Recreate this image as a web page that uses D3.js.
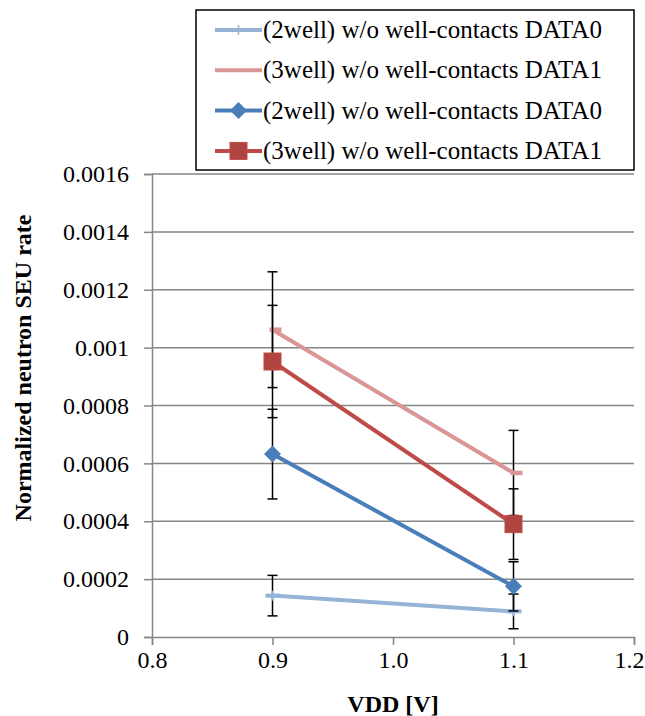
<!DOCTYPE html>
<html>
<head>
<meta charset="utf-8">
<script src="https://cdn.jsdelivr.net/npm/d3@7"></script>
<style>
  body { margin: 0; background: #fff; }
  svg text { font-family: "Liberation Serif", "Times New Roman", Tinos, "DejaVu Serif", serif; fill: #000; }
</style>
</head>
<body>
<div id="chart"></div>
<script>
// data
const vdd = [0.9, 1.1];
const seriesNames = [
    '(2well) w/o well-contacts DATA0',
    '(3well) w/o well-contacts DATA1',
    '(2well) w/o well-contacts DATA0',
    '(3well) w/o well-contacts DATA1'
];
const rate2wellLine = [0.000143, 0.0000885];
const rate3wellLine = [0.001062, 0.000567];
const rate2wellMark = [0.000632, 0.000175];
const rate3wellMark = [0.000952, 0.00039];
const err2wellLine = [0.00007, 0.00006];
const err3wellLine = [0.0002, 0.000147];
const err2wellMark = [0.000155, 0.000085];
const err3wellMark = [0.000194, 0.000122];
const yTicks = [0, 0.0002, 0.0004, 0.0006, 0.0008, 0.001, 0.0012, 0.0014, 0.0016];
const xTicks = [0.8, 0.9, 1.0, 1.1, 1.2];

const series = [
    { name: seriesNames[0], vals: rate2wellLine, err: err2wellLine, color: '#95B3D7', marker: 'plus' },
    { name: seriesNames[1], vals: rate3wellLine, err: err3wellLine, color: '#D99694', marker: 'dash' },
    { name: seriesNames[2], vals: rate2wellMark, err: err2wellMark, color: '#4A7EBB', marker: 'diamond' },
    { name: seriesNames[3], vals: rate3wellMark, err: err3wellMark, color: '#BE4B48', marker: 'square' }
];

const serif = '"Liberation Serif", "Times New Roman", Tinos, "DejaVu Serif", serif';

let margin = { top: 174, right: 11, bottom: 79, left: 152 },
    W = 645, H = 716,
    width = W - margin.left - margin.right,
    height = H - margin.top - margin.bottom;

let svg = d3.select('#chart').append('svg').attr('width', W).attr('height', H)
    .style('font-family', serif);
let g = svg.append('g').attr('transform', 'translate(' + margin.left + ',' + margin.top + ')');

let x = d3.scaleLinear().domain([0.8, 1.2]).range([0, width]);
let y = d3.scaleLinear().domain([0, 0.0016]).range([height, 0]);

const grey = '#868686';

// horizontal gridlines
g.append('g').selectAll('line').data(yTicks.slice(1)).enter().append('line')
    .attr('x1', 0).attr('x2', width)
    .attr('y1', d => y(d)).attr('y2', d => y(d))
    .attr('stroke', grey).attr('stroke-width', 1.5);

let yAxis = d3.axisLeft(y).tickValues(yTicks).tickSize(8).tickPadding(15)
    .tickFormat(d => d === 0 ? '0' : String(+d.toFixed(4)));
let xAxis = d3.axisBottom(x).tickValues(xTicks).tickSize(8).tickPadding(6)
    .tickFormat(d3.format('.1f'));

let gy = g.append('g').call(yAxis);
let gx = g.append('g').attr('transform', 'translate(0,' + height + ')').call(xAxis);
[gx, gy].forEach(a => {
    a.attr('font-family', serif).attr('font-size', 24);
    a.select('.domain').attr('stroke', grey).attr('stroke-width', 1.5);
    a.selectAll('.tick line').attr('stroke', grey).attr('stroke-width', 1.5);
    a.selectAll('.tick text').attr('fill', '#000');
});
// keep the last x label inside the picture
gx.selectAll('.tick text').filter(d => d === 1.2).attr('text-anchor', 'end').attr('x', W - margin.left - width - 1);

// axis titles
svg.append('text').attr('x', margin.left + width / 2).attr('y', 712)
    .attr('text-anchor', 'middle').style('font-size', '24px').style('font-weight', 'bold')
    .text('VDD [V]');
svg.append('text').attr('transform', 'translate(31,368) rotate(-90)')
    .attr('text-anchor', 'middle').style('font-size', '24px').style('font-weight', 'bold')
    .text('Normalized neutron SEU rate');

function drawMarker(sel, type, color) {
    if (type === 'diamond') {
        sel.append('path').attr('d', 'M0,-8.5L8.5,0L0,8.5L-8.5,0Z').attr('fill', color);
    } else if (type === 'square') {
        sel.append('rect').attr('x', -8.5).attr('y', -8.5).attr('width', 17).attr('height', 17)
            .attr('fill', '#B0443F').attr('stroke', '#BE4B48').attr('stroke-width', 1);
    } else if (type === 'plus') {
        sel.append('line').attr('x1', -7).attr('x2', 8).attr('stroke', color).attr('stroke-width', 4);
        sel.append('line').attr('y1', -5).attr('y2', 5).attr('stroke', color).attr('stroke-width', 1.5);
    } else if (type === 'dash') {
        sel.append('line').attr('x1', -3).attr('x2', 9).attr('stroke', color).attr('stroke-width', 4.5);
    }
}

let line = d3.line().x((d, i) => x(vdd[i])).y(d => y(d));

series.forEach(s => {
    let sg = g.append('g');
    // error bars
    let eb = sg.append('g').selectAll('g').data(s.vals).enter().append('g')
        .attr('transform', (d, i) => 'translate(' + x(vdd[i]) + ',0)');
    eb.append('line').attr('y1', (d, i) => y(d + s.err[i])).attr('y2', (d, i) => y(d - s.err[i]))
        .attr('stroke', '#000').attr('stroke-width', 1.5);
    eb.append('line').attr('x1', -5).attr('x2', 5)
        .attr('y1', (d, i) => y(d + s.err[i])).attr('y2', (d, i) => y(d + s.err[i]))
        .attr('stroke', '#000').attr('stroke-width', 1.5);
    eb.append('line').attr('x1', -5).attr('x2', 5)
        .attr('y1', (d, i) => y(d - s.err[i])).attr('y2', (d, i) => y(d - s.err[i]))
        .attr('stroke', '#000').attr('stroke-width', 1.5);
    // line
    sg.append('path').datum(s.vals).attr('d', line).attr('fill', 'none')
        .attr('stroke', s.color).attr('stroke-width', 4);
    // markers
    sg.selectAll('.mk').data(s.vals).enter().append('g').attr('class', 'mk')
        .attr('transform', (d, i) => 'translate(' + x(vdd[i]) + ',' + y(d) + ')')
        .each(function () { drawMarker(d3.select(this), s.marker, s.color); });
});

// legend
let legend = svg.append('g');
legend.append('rect').attr('x', 196).attr('y', 10).attr('width', 438).attr('height', 160)
    .attr('fill', '#fff').attr('stroke', '#000').attr('stroke-width', 1.5);
let items = legend.selectAll('.legend').data(series).enter().append('g').attr('class', 'legend')
    .attr('transform', (d, i) => 'translate(0,' + (30 + i * 40.3) + ')');
items.append('line').attr('x1', 215).attr('x2', 262).attr('stroke', d => d.color).attr('stroke-width', 4);
items.append('g').attr('transform', 'translate(238.5,0)')
    .each(function (d) { if (d.marker !== 'dash') drawMarker(d3.select(this), d.marker, d.color); });
items.append('text').attr('x', 263).attr('y', 8).style('font-size', '25px').text(d => d.name);
</script>
</body>
</html>
